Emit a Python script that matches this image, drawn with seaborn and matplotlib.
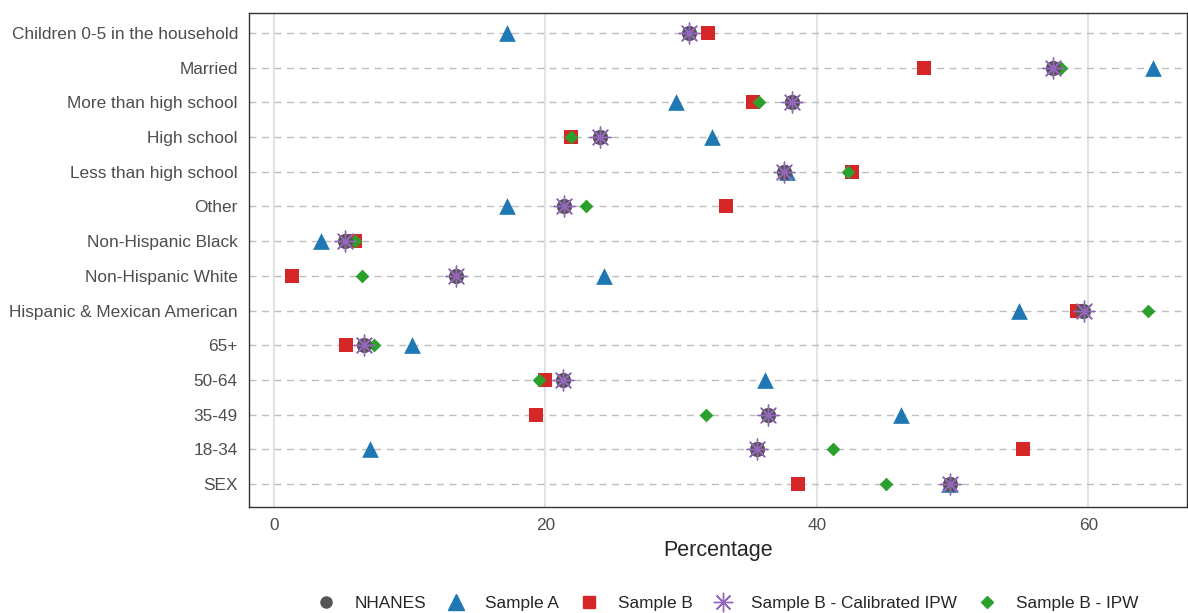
import matplotlib
matplotlib.use("Agg")
import matplotlib.pyplot as plt
import pandas as pd
import seaborn as sns
from matplotlib.lines import Line2D

sns.set_style("white")
plt.rcParams['font.family'] = ['Liberation Sans', 'DejaVu Sans']

variables = ["Children 0-5 in the household", "Married", "More than high school",
             "High school", "Less than high school", "Other", "Non-Hispanic Black",
             "Non-Hispanic White", "Hispanic & Mexican American", "65+", "50-64",
             "35-49", "18-34", "SEX"]

nhanes = [30.6, 57.4, 38.2, 24.0, 37.6, 21.4, 5.2, 13.4, 59.6, 6.6, 21.3, 36.4, 35.6, 49.8]
sample_a = [17.2, 64.8, 29.6, 32.3, 37.8, 17.2, 3.5, 24.3, 54.9, 10.2, 36.2, 46.2, 7.1, 49.7]
sample_b = [32.0, 47.9, 35.3, 21.9, 42.6, 33.3, 6.0, 1.3, 59.2, 5.3, 20.0, 19.3, 55.2, 38.6]
calib_ipw = [30.6, 57.4, 38.2, 24.0, 37.6, 21.4, 5.2, 13.4, 59.7, 6.6, 21.3, 36.4, 35.6, 49.8]
ipw = [30.5, 58.0, 35.7, 21.9, 42.3, 23.0, 6.0, 6.5, 64.4, 7.4, 19.5, 31.8, 41.2, 45.1]

series = [
    # name, values, colour, marker, size, edge width
    ("Sample A", sample_a, "#1f77b4", "^", 12, 0),
    ("Sample B", sample_b, "#d62728", "s", 10, 0),
    ("Sample B - IPW", ipw, "#2ca02c", "D", 7, 0),
    ("NHANES", nhanes, "#555555", "o", 11, 0),
    ("Sample B - Calibrated IPW", calib_ipw, "#9467bd", (8, 2, 0), 15, 1.0),
]

fig, ax = plt.subplots(figsize=(11.88, 6.13), dpi=100)
fig.subplots_adjust(left=0.2096, right=0.9995, top=0.979, bottom=0.173)

for name, vals, col, mk, sz, lw in series:
    df = pd.DataFrame({"variable": variables, "value": vals})
    sns.stripplot(data=df, x="value", y="variable", order=variables, jitter=False,
                  color=col, marker=mk, size=sz, linewidth=lw, edgecolor=col,
                  ax=ax, zorder=3)

ax.set_xlim(-1.84, 67.3)
ax.set_ylim(13.66, -0.58)
ax.set_xticks([0, 20, 40, 60])
ax.xaxis.grid(True, color="#e3e3e3", linewidth=1.5)
for i in range(len(variables)):
    ax.axhline(i, color="#bdbdbd", linestyle=(0, (5, 4)), linewidth=1, zorder=1)
ax.set_axisbelow(True)
ax.tick_params(axis="both", length=3, width=0.8, color="#555555",
               labelsize=12.4, labelcolor="#4d4d4d", pad=5)
ax.set_ylabel("")
ax.set_xlabel("Percentage", fontsize=15.5, labelpad=5)
for s in ax.spines.values():
    s.set_color("#333333")
    s.set_linewidth(1)

handles = [
    Line2D([], [], linestyle="", marker="o", color="#555555", markersize=8),
    Line2D([], [], linestyle="", marker="^", color="#1f77b4", markersize=11),
    Line2D([], [], linestyle="", marker="s", color="#d62728", markersize=9),
    Line2D([], [], linestyle="", marker=(8, 2, 0), color="#9467bd", markersize=14,
           markeredgewidth=1.0),
    Line2D([], [], linestyle="", marker="D", color="#2ca02c", markersize=6),
]
labels = ["NHANES", "Sample A", "Sample B", "Sample B - Calibrated IPW", "Sample B - IPW"]
fig.legend(handles, labels, loc="center", bbox_to_anchor=(0.609, 0.015), ncol=5,
           frameon=False, fontsize=12.4, handletextpad=0.67, columnspacing=0.75)

fig.savefig("out.png", dpi=100)
